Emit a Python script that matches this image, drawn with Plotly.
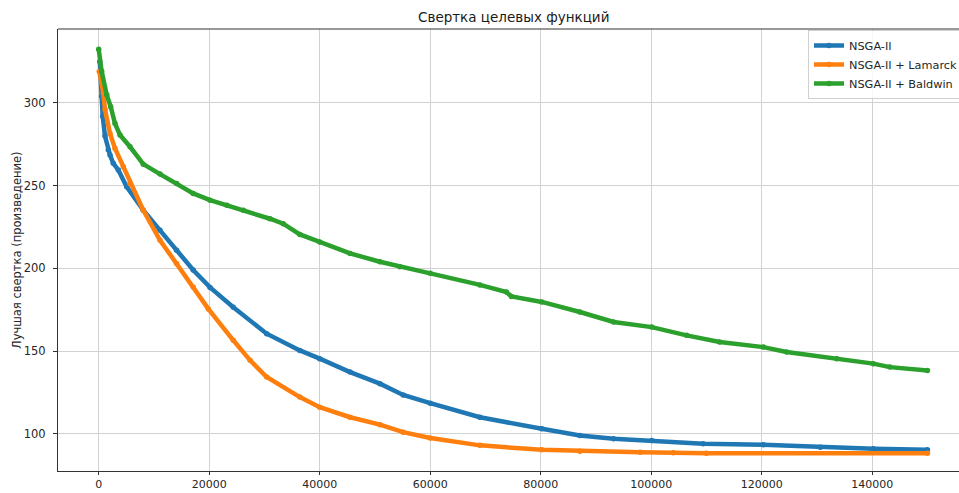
import plotly.graph_objects as go

# Evaluations (x) and best scalarized objective value (y) for each algorithm
nsga_x = [200, 540, 720, 1140, 1740, 2050, 2640, 3550, 5070, 8070, 11100, 14100, 17100,
          20150, 24360, 30400, 36400, 40000, 45500, 50900, 55100, 60000, 69000, 80200,
          87100, 93200, 100100, 109400, 120300, 130600, 140200, 150000]
nsga_y = [325, 304, 292, 280, 271.5, 268.5, 263.5, 259.5, 249.3, 235.2, 223, 211, 199,
          188.5, 176.5, 160.5, 150.4, 145.4, 137.3, 130.3, 123.5, 118.5, 110, 103,
          99, 97, 96, 94, 93.3, 91.9, 90.9, 90.3]

lamarck_x = [100, 840, 1140, 2050, 2950, 4450, 5660, 8070, 11100, 14100, 17100, 19840,
             24360, 27400, 30400, 36400, 40000, 45500, 50900, 55100, 60000, 69000, 80200,
             87100, 98000, 104000, 110000, 150000]
lamarck_y = [319, 306, 296, 281.5, 272.5, 261.5, 251.3, 235.2, 217, 203, 188.7, 175.5,
             156.5, 144.4, 134.3, 122.2, 116.1, 110, 105.5, 101, 97.5, 93, 90.3,
             89.5, 88.9, 88.5, 88.2, 88.2]

baldwin_x = [0, 540, 1450, 2170, 2950, 3860, 5670, 8070, 11100, 14100, 17100, 20150,
             23200, 26200, 31000, 33400, 36400, 40000, 45500, 50900, 54500, 60000, 69000,
             73800, 74700, 80200, 87100, 93200, 100100, 106400, 112400, 120300, 124500,
             133600, 140200, 143200, 150000]
baldwin_y = [332.5, 319, 305, 297.7, 287.6, 280.6, 273.5, 263, 257, 251.3, 245.3, 241.2,
             238.2, 235.2, 230, 227, 220.5, 216, 209, 204, 201, 197, 190,
             185.7, 183, 179.7, 173.6, 167.6, 164.5, 159.5, 155.5, 152.4, 149.4,
             145.4, 142.4, 140.3, 138.3]

series_names = ["NSGA-II", "NSGA-II + Lamarck", "NSGA-II + Baldwin"]
series_colors = ["#1f77b4", "#ff7f0e", "#2ca02c"]

title_text = "Свертка целевых функций"
ylabel_text = "Лучшая свертка (произведение)"
x_ticks = [0, 20000, 40000, 60000, 80000, 100000, 120000, 140000]
y_ticks = [100, 150, 200, 250, 300]

FONT = "DejaVu Sans"
W, H = 959, 493
ML, MR, MT, MB = 58, 0, 29, 22
PW = W - ML - MR
PH = H - MT - MB

fig = go.Figure()
for name, color, xs, ys in zip(series_names, series_colors,
                               [nsga_x, lamarck_x, baldwin_x],
                               [nsga_y, lamarck_y, baldwin_y]):
    fig.add_trace(go.Scatter(
        x=xs, y=ys, name=name, mode="lines+markers",
        line=dict(color=color, width=4.5),
        marker=dict(color=color, size=5.5),
    ))

axis_common = dict(
    showgrid=True, gridcolor="#d2d2d2", gridwidth=1,
    zeroline=False, automargin=False,
    showline=True, linecolor="#333333", linewidth=1,
    ticks="outside", tickwidth=1, tickcolor="#333333",
    tickfont=dict(family=FONT, size=11.5, color="#262626"),
)

fig.update_layout(
    width=W, height=H,
    margin=dict(l=ML, r=MR, t=MT, b=MB, pad=0, autoexpand=False),
    paper_bgcolor="white", plot_bgcolor="white",
    font=dict(family=FONT, size=11, color="#262626"),
    showlegend=True,
    legend=dict(
        x=(808 - ML) / PW, y=1 - (30 - MT) / PH, xanchor="left", yanchor="top",
        bgcolor="rgba(255,255,255,0.85)", bordercolor="#d0d0d0", borderwidth=1,
        font=dict(family=FONT, size=11.3, color="#262626"),
        tracegroupgap=0,
    ),
    xaxis=dict(range=[-7366, 155710], tickvals=x_ticks,
               ticktext=[str(v) for v in x_ticks], mirror=False,
               ticklen=3, ticklabelstandoff=0,
               **{**axis_common, "tickfont": dict(family=FONT, size=11, color="#262626")}),
    yaxis=dict(range=[77.5, 344.7], tickvals=y_ticks,
               ticktext=[str(v) for v in y_ticks],
               ticklen=4, ticklabelstandoff=5, **axis_common),
    shapes=[dict(type="line", xref="paper", yref="paper", x0=0, x1=1, y0=1, y1=1,
                 line=dict(color="#333333", width=1))],
    annotations=[
        dict(text=title_text, xref="paper", yref="paper",
             x=(513 - ML) / PW, y=1 + (MT - 17) / PH,
             xanchor="center", yanchor="middle", showarrow=False,
             font=dict(family=FONT, size=13.5, color="#1a1a1a")),
        dict(text=ylabel_text, xref="paper", yref="paper",
             x=-(ML - 17) / PW, y=0.5, textangle=-90,
             xanchor="center", yanchor="middle", showarrow=False,
             font=dict(family=FONT, size=11.5, color="#262626")),
    ],
)

fig.write_html("out.html")
